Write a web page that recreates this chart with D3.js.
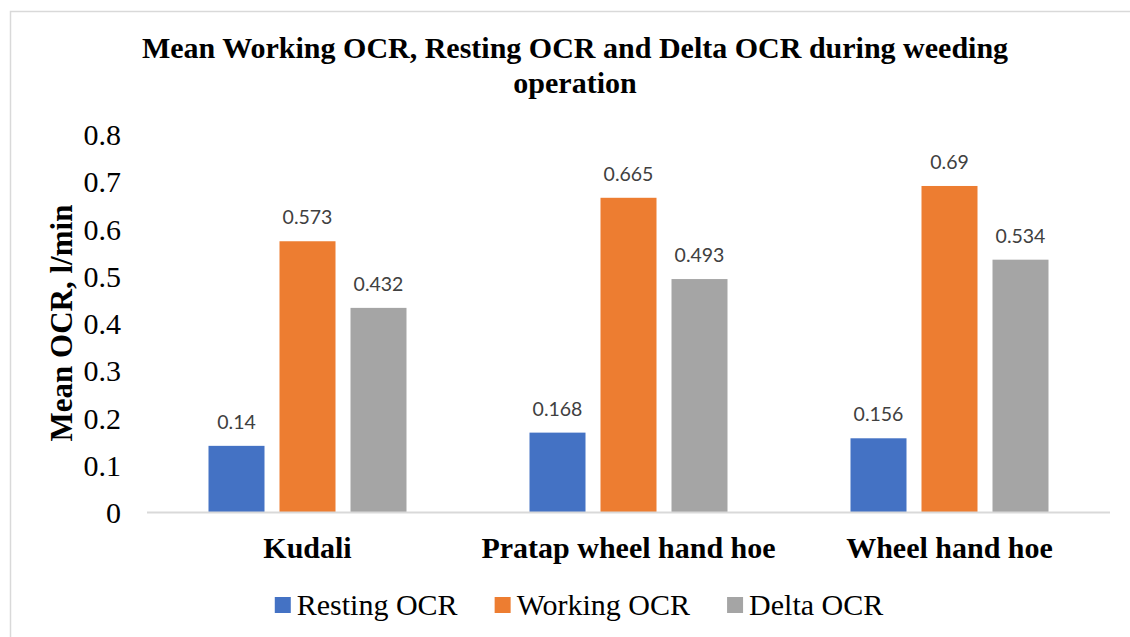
<!DOCTYPE html>
<html>
<head>
<meta charset="utf-8">
<script src="https://cdn.jsdelivr.net/npm/d3@7"></script>
<style>
  html, body { margin: 0; padding: 0; background: #fff; }
  svg { display: block; }
</style>
</head>
<body>
<div id="chart"></div>
<script>
// Chart data
const categories = ['Kudali', 'Pratap wheel hand hoe', 'Wheel hand hoe'];
const seriesNames = ['Resting OCR', 'Working OCR', 'Delta OCR'];
const restingOCR = [0.14, 0.168, 0.156];
const workingOCR = [0.573, 0.665, 0.69];
const deltaOCR = [0.432, 0.493, 0.534];
const yTicks = [0, 0.1, 0.2, 0.3, 0.4, 0.5, 0.6, 0.7, 0.8];

const seriesColors = ['#4472C4', '#ED7D31', '#A5A5A5'];
const seriesValues = [restingOCR, workingOCR, deltaOCR];

const width = 1130;
const height = 637;
const margin = { top: 134, left: 147 };
const plotRight = 1110;
const plotBottom = 512;

const svg = d3.select('#chart').append('svg')
    .attr('width', width)
    .attr('height', height);

// chart area border
svg.append('rect')
    .attr('x', 10.5)
    .attr('y', 11.5)
    .attr('width', 1140)
    .attr('height', 700)
    .attr('fill', '#fff')
    .attr('stroke', '#D9D9D9')
    .attr('stroke-width', 1.5);

const serif = '"Liberation Serif", "Times New Roman", serif';

// Title
const title = svg.append('text')
    .attr('text-anchor', 'middle')
    .style('font-family', serif)
    .style('font-weight', 'bold')
    .style('font-size', '30px')
    .style('fill', '#000');
title.append('tspan').attr('x', 575).attr('y', 58)
    .text('Mean Working OCR, Resting OCR and Delta OCR during weeding');
title.append('tspan').attr('x', 575).attr('y', 93)
    .text('operation');

// Scales
const x0 = d3.scaleBand()
    .domain(categories)
    .range([margin.left, plotRight]);

const groupWidth = 198;
const x1 = d3.scaleBand()
    .domain(seriesNames)
    .range([(x0.bandwidth() - groupWidth) / 2, (x0.bandwidth() + groupWidth) / 2])
    .paddingInner(15 / 71);

const y = d3.scaleLinear()
    .domain([0, 0.8])
    .range([plotBottom, margin.top]);

// Y axis (labels only)
const yAxis = svg.append('g')
    .attr('transform', `translate(${margin.left - 26},0)`)
    .call(d3.axisLeft(y).tickValues(yTicks).tickSize(0).tickPadding(0)
        .tickFormat(d => d === 0 ? '0' : d3.format('.1f')(d)));
yAxis.select('.domain').remove();
yAxis.selectAll('text')
    .style('font-family', serif)
    .style('font-size', '30px')
    .style('fill', '#000')
    .attr('dy', '0.35em');

// Y axis title
svg.append('text')
    .attr('transform', `translate(72, ${(margin.top + plotBottom) / 2}) rotate(-90)`)
    .attr('text-anchor', 'middle')
    .style('font-family', serif)
    .style('font-weight', 'bold')
    .style('font-size', '31px')
    .style('fill', '#000')
    .text('Mean OCR, l/min');

// Bars
const groups = svg.selectAll('.group')
    .data(categories)
    .enter().append('g')
    .attr('class', 'group')
    .attr('transform', d => `translate(${x0(d)},0)`);

const barData = (cat, ci) => seriesNames.map((s, si) => ({
    series: s, value: seriesValues[si][ci], color: seriesColors[si]
}));

groups.selectAll('rect')
    .data((d, i) => barData(d, i))
    .enter().append('rect')
    .attr('x', d => x1(d.series))
    .attr('y', d => y(d.value))
    .attr('width', x1.bandwidth())
    .attr('height', d => plotBottom - y(d.value))
    .attr('fill', d => d.color);

// Data labels
groups.selectAll('.label')
    .data((d, i) => barData(d, i))
    .enter().append('text')
    .attr('class', 'label')
    .attr('x', d => x1(d.series) + x1.bandwidth() / 2)
    .attr('y', d => y(d.value) - 17)
    .attr('text-anchor', 'middle')
    .style('font-family', 'Lato, "Open Sans", sans-serif')
    .style('font-size', '19.5px')
    .style('fill', '#404040')
    .text(d => d.value);

// Baseline
svg.append('line')
    .attr('x1', margin.left)
    .attr('x2', plotRight)
    .attr('y1', plotBottom + 0.5)
    .attr('y2', plotBottom + 0.5)
    .attr('stroke', '#D9D9D9')
    .attr('stroke-width', 2);

// Category labels
svg.selectAll('.cat')
    .data(categories)
    .enter().append('text')
    .attr('class', 'cat')
    .attr('x', d => x0(d) + x0.bandwidth() / 2)
    .attr('y', 558)
    .attr('text-anchor', 'middle')
    .style('font-family', serif)
    .style('font-weight', 'bold')
    .style('font-size', '30px')
    .style('fill', '#000')
    .text(d => d);

// Legend
const legend = svg.append('g');
const items = legend.selectAll('g')
    .data(seriesNames)
    .enter().append('g');

items.append('rect')
    .attr('width', 16)
    .attr('height', 16)
    .attr('y', 597)
    .attr('fill', (d, i) => seriesColors[i]);

items.append('text')
    .attr('x', 22)
    .attr('y', 615)
    .style('font-family', serif)
    .style('font-size', '30px')
    .style('fill', '#000')
    .text(d => d);

let cursor = 0;
const offsets = [];
items.each(function () {
    const w = d3.select(this).select('text').node().getComputedTextLength();
    offsets.push(cursor);
    cursor += 22 + w + 37;
});
const total = cursor - 37;
const legendStart = 579 - total / 2;
items.attr('transform', (d, i) => `translate(${legendStart + offsets[i]},0)`);
</script>
</body>
</html>
